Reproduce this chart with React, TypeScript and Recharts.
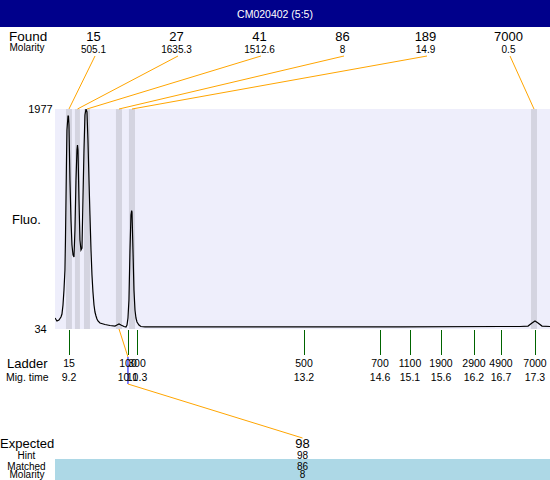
import React from 'react';
import { ComposedChart, Line, XAxis, YAxis, ReferenceArea, ReferenceLine } from 'recharts';

// ---- Data ----
const traceTime = [8.957, 8.991, 9.026, 9.061, 9.078, 9.096, 9.113, 9.13, 9.139, 9.148, 9.157, 9.165, 9.183, 9.191, 9.2, 9.217, 9.235, 9.252, 9.27, 9.287, 9.304, 9.322, 9.339, 9.348, 9.357, 9.374, 9.391, 9.409, 9.426, 9.443, 9.461, 9.478, 9.496, 9.513, 9.53, 9.548, 9.565, 9.583, 9.6, 9.617, 9.635, 9.652, 9.67, 9.687, 9.704, 9.739, 9.826, 9.913, 10.0, 10.035, 10.07, 10.104, 10.157, 10.191, 10.209, 10.226, 10.243, 10.261, 10.278, 10.29, 10.296, 10.313, 10.33, 10.348, 10.365, 10.383, 10.417, 10.452, 10.522, 11.478, 13.217, 14.957, 16.696, 17.043, 17.183, 17.252, 17.304, 17.357, 17.426, 17.565];
const traceFluo = [131, 105, 113, 140, 166, 246, 379, 555, 820, 1173, 1527, 1792, 1915, 1915, 1836, 1350, 997, 776, 688, 670, 908, 1350, 1615, 1659, 1615, 1173, 820, 732, 749, 1173, 1615, 1924, 1977, 1951, 1703, 1350, 1041, 732, 511, 361, 246, 184, 149, 122, 105, 87, 74, 65, 60, 69, 78, 69, 56, 52, 69, 131, 290, 732, 1041, 1079, 1067, 732, 379, 202, 131, 96, 69, 56, 52, 52, 52, 52, 56, 56, 60, 87, 105, 87, 60, 56];

const foundSizes = ['15', '27', '41', '86', '189', '7000'];
const foundMolarity = ['505.1', '1635.3', '1512.6', '8', '14.9', '0.5'];
const foundTime = [9.2, 9.348, 9.513, 10.07, 10.296, 17.287];
const foundBandStart = [9.148, 9.304, 9.461, 10.017, 10.243, 17.235];
const foundBandEnd = [9.252, 9.391, 9.565, 10.122, 10.348, 17.339];

const ladderSizes = ['15', '100', '300', '500', '700', '1100', '1900', '2900', '4900', '7000'];
const ladderTimes = [9.2, 10.226, 10.383, 13.287, 14.609, 15.13, 15.67, 16.243, 16.713, 17.304];
const ladderTimeLabels = ['9.2', '10.1', '10.3', '13.2', '14.6', '15.1', '15.6', '16.2', '16.7', '17.3'];

const expectedSize = '98';
const hintSize = '98';
const matchedSize = '86';
const matchedMolarity = '8';
const matchedLadderIndex = 1;
const matchedFoundIndex = 3;

const yTicks = [34, 1977];
const title = 'CM020402 (5:5)';

// ---- Layout ----
const W = 550;
const H = 480;
const PLOT_L = 55;
const PLOT_T = 109;
const PLOT_B = 329;
const X_DOMAIN: [number, number] = [8.957, 17.565];
const Y_DOMAIN: [number, number] = [34, 1977];
const FONT = '"Liberation Sans", Arial, Helvetica, sans-serif';

const pxToTime = (px: number) => X_DOMAIN[0] + ((px - PLOT_L) / (W - PLOT_L)) * (X_DOMAIN[1] - X_DOMAIN[0]);
const pxToFluo = (py: number) => Y_DOMAIN[0] + ((PLOT_B - py) / (PLOT_B - PLOT_T)) * (Y_DOMAIN[1] - Y_DOMAIN[0]);

const SLOT_START = 52;
const SLOT_W = 83;
const slotCenter = (i: number) => SLOT_START + SLOT_W * (i + 0.5);
const PLOT_CENTER = (PLOT_L + W) / 2;

const data = traceTime.map((t, i) => ({ t, f: traceFluo[i] }));

const LadderTick = (props: any) => {
  const { x, y, payload } = props;
  let idx = props.index;
  if (idx === undefined || idx === null) idx = ladderTimes.indexOf(payload.value);
  const lx = Math.round(x) + 0.5;
  return (
    <g>
      <line x1={lx} y1={y + 1} x2={lx} y2={y + 26} stroke="#006400" strokeWidth={1} shapeRendering="crispEdges" />
      <text x={x} y={y + 38} textAnchor="middle" fontSize={10.5} fontFamily={FONT} fill="#000">
        {ladderSizes[idx]}
      </text>
      <text x={x} y={y + 52} textAnchor="middle" fontSize={10.5} fontFamily={FONT} fill="#000">
        {ladderTimeLabels[idx]}
      </text>
    </g>
  );
};

const FluoTick = (props: any) => {
  const { y, payload } = props;
  return (
    <text x={40.5} y={y} dy={4} textAnchor="middle" fontSize={11} fontFamily={FONT} fill="#000">
      {payload.value}
    </text>
  );
};

export default function App() {
  const ladderX = ladderTimes[matchedLadderIndex];
  return (
    <div style={{ position: 'absolute', left: 0, top: 0, width: W, height: H, background: '#fff', overflow: 'hidden' }}>
      <svg width={W} height={H} style={{ position: 'absolute', left: 0, top: 0 }} fontFamily={FONT}>
        <rect x={0} y={0} width={W} height={27} fill="#00008B" />
        <text x={W / 2} y={18} textAnchor="middle" fontSize={10.5} fill="#fff">{title}</text>
        <text x={9} y={41} fontSize={13.5} fill="#000">Found</text>
        <text x={27} y={51} textAnchor="middle" fontSize={10} fill="#000">Molarity</text>
        {foundSizes.map((s, i) => (
          <text key={'fs' + i} x={slotCenter(i)} y={41} textAnchor="middle" fontSize={13} fill="#000">{s}</text>
        ))}
        {foundMolarity.map((s, i) => (
          <text key={'fm' + i} x={slotCenter(i)} y={53} textAnchor="middle" fontSize={10} fill="#000">{s}</text>
        ))}
        <text x={12} y={224} fontSize={13} fill="#000">Fluo.</text>
        <text x={7} y={368} fontSize={13} fill="#000">Ladder</text>
        <text x={6} y={381} fontSize={10.5} fill="#000">Mig. time</text>
        <rect x={PLOT_L} y={459} width={W - PLOT_L} height={21} fill="#ADD8E6" />
        <text x={0} y={448} fontSize={13} fill="#000">Expected</text>
        <text x={PLOT_CENTER} y={448} textAnchor="middle" fontSize={13} fill="#000">{expectedSize}</text>
        <text x={26.5} y={459} textAnchor="middle" fontSize={10} fill="#000">Hint</text>
        <text x={PLOT_CENTER} y={459} textAnchor="middle" fontSize={10} fill="#000">{hintSize}</text>
        <text x={26.5} y={469.5} textAnchor="middle" fontSize={10} fill="#000">Matched</text>
        <text x={PLOT_CENTER} y={469.5} textAnchor="middle" fontSize={10} fill="#000">{matchedSize}</text>
        <text x={27} y={477.5} textAnchor="middle" fontSize={10} fill="#000">Molarity</text>
        <text x={PLOT_CENTER} y={477.5} textAnchor="middle" fontSize={10} fill="#000">{matchedMolarity}</text>
      </svg>
      <div style={{ position: 'absolute', left: 0, top: 0 }}>
        <ComposedChart width={W} height={H} data={data} margin={{ top: PLOT_T, right: 0, bottom: 0, left: 0 }}>
          <XAxis
            dataKey="t"
            type="number"
            domain={X_DOMAIN}
            allowDataOverflow
            ticks={ladderTimes}
            interval={0}
            height={H - PLOT_B}
            axisLine={false}
            tickLine={false}
            tickSize={0}
            tickMargin={0}
            tick={<LadderTick />}
          />
          <YAxis
            type="number"
            domain={Y_DOMAIN}
            allowDataOverflow
            ticks={yTicks}
            interval={0}
            width={PLOT_L}
            axisLine={false}
            tickLine={false}
            tickSize={0}
            tick={<FluoTick />}
          />
          <ReferenceArea x1={X_DOMAIN[0]} x2={X_DOMAIN[1]} y1={Y_DOMAIN[0]} y2={Y_DOMAIN[1]} fill="#EEEEFB" fillOpacity={1} stroke="none" ifOverflow="visible" />
          {foundBandStart.map((b, i) => (
            <ReferenceArea key={'band' + i} x1={b} x2={foundBandEnd[i]} y1={Y_DOMAIN[0]} y2={Y_DOMAIN[1]} fill="#D4D4E0" fillOpacity={1} stroke="none" />
          ))}
          <Line dataKey="f" type="linear" stroke="#000" strokeWidth={1.2} dot={false} activeDot={false} isAnimationActive={false} />
          {foundTime.map((t, i) => (
            <ReferenceLine
              key={'fl' + i}
              ifOverflow="visible"
              stroke="#FFA500"
              strokeWidth={1}
              segment={[
                { x: pxToTime(slotCenter(i) + 1.5), y: pxToFluo(56) },
                { x: t, y: Y_DOMAIN[1] },
              ]}
            />
          ))}
          <ReferenceLine
            ifOverflow="visible"
            stroke="#FFA500"
            strokeWidth={1}
            segment={[
              { x: foundTime[matchedFoundIndex], y: Y_DOMAIN[0] },
              { x: ladderX, y: pxToFluo(357) },
            ]}
          />
          <ReferenceLine
            ifOverflow="visible"
            stroke="#0000FF"
            strokeWidth={1}
            segment={[
              { x: ladderX, y: pxToFluo(357) },
              { x: ladderX, y: pxToFluo(384) },
            ]}
          />
          <ReferenceLine
            ifOverflow="visible"
            stroke="#FFA500"
            strokeWidth={1}
            segment={[
              { x: ladderX, y: pxToFluo(384) },
              { x: pxToTime(PLOT_CENTER), y: pxToFluo(438) },
            ]}
          />
        </ComposedChart>
      </div>
    </div>
  );
}
